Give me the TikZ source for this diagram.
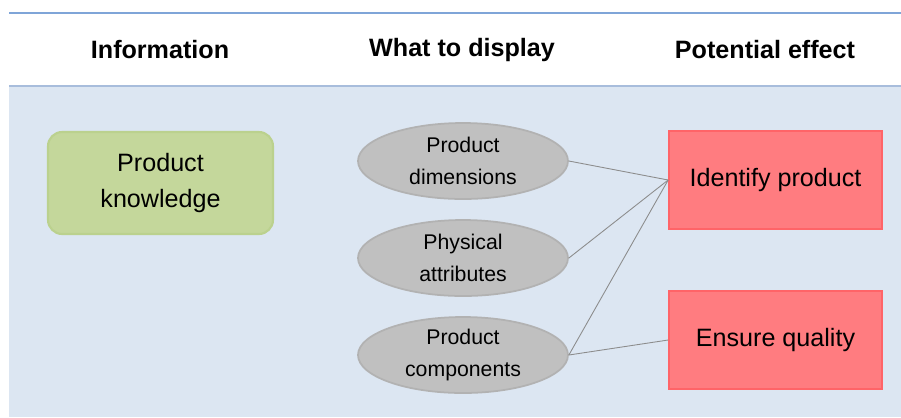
\documentclass[tikz,border=0pt]{standalone}
\usepackage{fontspec}
\setmainfont{Liberation Sans}
\usepackage{tikz}
\usetikzlibrary{positioning,calc,shapes.geometric}
\definecolor{bandblue}{HTML}{DCE6F2}
\definecolor{rulelight}{HTML}{7FA5D8}
\definecolor{ruledark}{HTML}{A8BDDC}
\definecolor{infogreen}{HTML}{C4D79B}
\definecolor{infoedge}{HTML}{BBD18E}
\definecolor{showgray}{HTML}{C0C0C0}
\definecolor{showedge}{HTML}{B2B2B2}
\definecolor{effectred}{HTML}{FF7C80}
\definecolor{effectedge}{HTML}{FF6468}
\definecolor{linkgray}{HTML}{8C8C8C}

\begin{document}
\begin{tikzpicture}[x=0.02cm,y=-0.02cm,
    heading/.style={font=\fontsize{14.3}{17}\selectfont\bfseries},
    infobox/.style={draw=infoedge,line width=1.2pt,fill=infogreen,rounded corners=8pt,
      minimum width=4.5cm,minimum height=2.04cm,align=center,font=\fontsize{14.3}{20}\selectfont},
    showbox/.style={ellipse,draw=showedge,line width=1pt,fill=showgray,inner sep=0pt,
      minimum width=4.2cm,minimum height=1.52cm,align=center,font=\fontsize{12.1}{18}\selectfont},
    effectbox/.style={draw=effectedge,line width=1pt,fill=effectred,
      minimum width=4.26cm,minimum height=1.96cm,align=center,font=\fontsize{14.3}{20}\selectfont},
    link/.style={draw=linkgray,line width=0.5pt}]

    \useasboundingbox (0,0) rectangle (901,417);
    % header band and body
    \fill [bandblue] (9,87) rectangle (901,417);
    \draw [rulelight,line width=0.8pt] (9,13) -- (901,13);
    \draw [ruledark,line width=1.6pt] (9,86) -- (901,86);

    \node [heading] (hinfo) at (160,50) {Information};
    \node [heading] (hshow) at (462,50) {What to display};
    \node [heading] (heffect) at (765,50) {Potential effect};

    \node [infobox] (know) at (160.5,183) {Product\\knowledge};

    \node [showbox] (dim) at (463,161) {Product\\dimensions};
    \node [showbox] (attr) at (463,258) {Physical\\attributes};
    \node [showbox] (comp) at (463,355) {Product\\components};

    \node [effectbox] (ident) at (775.5,180) {Identify product};
    \node [effectbox] (qual) at (775.5,340) {Ensure quality};

    \draw [link] (dim.east) -- (ident.west);
    \draw [link] (attr.east) -- (ident.west);
    \draw [link] (comp.east) -- (ident.west);
    \draw [link] (comp.east) -- (qual.west);
\end{tikzpicture}
\end{document}
